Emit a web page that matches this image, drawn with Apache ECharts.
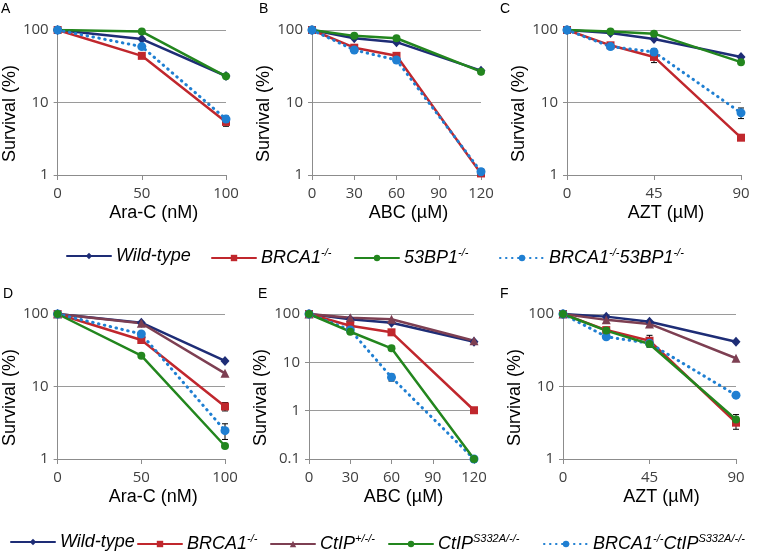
<!DOCTYPE html>
<html>
<head>
<meta charset="utf-8">
<script src="https://cdn.jsdelivr.net/npm/echarts@6/dist/echarts.min.js"></script>
<style>
html,body{margin:0;padding:0;background:#fff;}
#chart{width:761px;height:557px;}
</style>
</head>
<body>
<div id="chart"></div>
<script>
// ---------- DATA ----------
const doseAraC = [0, 50, 100];          // panels A, D
const doseABC  = [0, 30, 60, 120];      // panels B, E
const doseAZT  = [0, 22.5, 45, 90];     // panels C, F

const xTicksAraC = [0, 50, 100];
const xTicksABC  = [0, 30, 60, 90, 120];
const xTicksAZT  = [0, 45, 90];

// Panel A (Ara-C)
const A_wildType = [100, 75, 23.2];
const A_brca1    = [100, 44, 5.4];
const A_53bp1    = [100, 95, 23];
const A_double   = [100, 59, 5.9];
const A_brca1Err = [0, 0, 0.7];
const A_doubleErr= [0, 4, 0.6];
// Panel B (ABC)
const B_wildType = [100, 77, 68, 27.5];
const B_brca1    = [100, 57, 44, 1.05];
const B_53bp1    = [100, 83, 77, 26.6];
const B_double   = [100, 53, 38.6, 1.11];
const B_doubleErr= [0, 4, 3, 0.1];
// Panel C (AZT)
const C_wildType = [100, 91, 75, 42.5];
const C_brca1    = [100, 61.5, 42.5, 3.27];
const C_53bp1    = [100, 95, 89, 36];
const C_double   = [100, 59, 49.7, 7.2];
const C_brca1Err = [0, 3, 7, 0.2];
const C_doubleErr= [0, 0, 5, 1.2];
// Panel D (Ara-C)
const D_wildType = [100, 76, 22.5];
const D_brca1    = [100, 43.8, 5.3];
const D_ctip     = [100, 74.5, 15.2];
const D_s332a    = [100, 26.6, 1.51];
const D_double   = [100, 53, 2.46];
const D_brca1Err = [0, 0, 0.7];
const D_doubleErr= [0, 3, 0.6];
// Panel E (ABC)
const E_wildType = [100, 78, 66, 26.7];
const E_brca1    = [100, 57, 41.8, 1.02];
const E_ctip     = [100, 84, 78, 28];
const E_s332a    = [100, 43, 19.5, 0.1];
const E_double   = [100, 46.7, 4.9, 0.1];
const E_s332aErr = [0, 0, 2, 0];
const E_doubleErr= [0, 0, 0.8, 0];
// Panel F (AZT)
const F_wildType = [100, 92, 78, 41.5];
const F_brca1    = [100, 60, 42.8, 3.17];
const F_ctip     = [100, 83, 73, 24.5];
const F_s332a    = [100, 59, 38.6, 3.5];
const F_double   = [100, 48.6, 39.4, 7.6];
const F_brca1Err = [0, 0, 8, 0.6];
const F_s332aErr = [0, 0, 0, 0.6];

// ---------- STYLES ----------
const FONT = 'Liberation Sans, Arial, sans-serif';
const TICKFONT = 'Open Sans, Liberation Sans, sans-serif';
const STY = {
  'Wild-type':            {color:'#1e2d76', symbol:'diamond', size:[9,10], dash:'solid'},
  'BRCA1-/-':             {color:'#c0272d', symbol:'rect', size:8, dash:'solid'},
  '53BP1-/-':             {color:'#23861e', symbol:'circle', size:8, dash:'solid'},
  'BRCA1-/-53BP1-/-':     {color:'#1f7fd2', symbol:'circle', size:9, dash:[0.5,5.5]},
  'CtIP+/-/-':            {color:'#7d3f52', symbol:'triangle', size:9, dash:'solid'},
  'CtIPS332A/-/-':        {color:'#23861e', symbol:'circle', size:8, dash:'solid'},
  'BRCA1-/-CtIPS332A/-/-':{color:'#1f7fd2', symbol:'circle', size:9, dash:[0.5,5.5]}
};
const RICH = {
  'Wild-type': '{i|Wild-type}',
  'BRCA1-/-': '{i|BRCA1}{s|-/-}',
  '53BP1-/-': '{i|53BP1}{s|-/-}',
  'BRCA1-/-53BP1-/-': '{i|BRCA1}{s|-/-}{i|53BP1}{s|-/-}',
  'CtIP+/-/-': '{i|CtIP}{s|+/-/-}',
  'CtIPS332A/-/-': '{i|CtIP}{s|S332A/-/-}',
  'BRCA1-/-CtIPS332A/-/-': '{i|BRCA1}{s|-/-}{i|CtIP}{s|S332A/-/-}'
};

const grids = [
  {left:57,  top:30,  width:169, height:145},
  {left:312, top:30,  width:169, height:145},
  {left:567, top:30,  width:174, height:145},
  {left:56,  top:314, width:169, height:145},
  {left:309, top:314, width:165, height:145},
  {left:563, top:314, width:173, height:145}
];

const panels = [
  {ticks:xTicksAraC, name:'Ara-C (nM)', ymin:1,   dose:doseAraC,
   series:[['Wild-type',A_wildType],['BRCA1-/-',A_brca1],['53BP1-/-',A_53bp1],['BRCA1-/-53BP1-/-',A_double]],
   errs:[[A_brca1,A_brca1Err],[A_double,A_doubleErr]]},
  {ticks:xTicksABC,  name:'ABC (µM)',   ymin:1,   dose:doseABC,
   series:[['Wild-type',B_wildType],['BRCA1-/-',B_brca1],['53BP1-/-',B_53bp1],['BRCA1-/-53BP1-/-',B_double]],
   errs:[[B_double,B_doubleErr]]},
  {ticks:xTicksAZT,  name:'AZT (µM)',   ymin:1,   dose:doseAZT,
   series:[['Wild-type',C_wildType],['BRCA1-/-',C_brca1],['53BP1-/-',C_53bp1],['BRCA1-/-53BP1-/-',C_double]],
   errs:[[C_brca1,C_brca1Err],[C_double,C_doubleErr]]},
  {ticks:xTicksAraC, name:'Ara-C (nM)', ymin:1,   dose:doseAraC,
   series:[['Wild-type',D_wildType],['CtIP+/-/-',D_ctip],['BRCA1-/-',D_brca1],['BRCA1-/-CtIPS332A/-/-',D_double],['CtIPS332A/-/-',D_s332a]],
   errs:[[D_brca1,D_brca1Err],[D_double,D_doubleErr]]},
  {ticks:xTicksABC,  name:'ABC (µM)',   ymin:0.1, dose:doseABC,
   series:[['Wild-type',E_wildType],['CtIP+/-/-',E_ctip],['BRCA1-/-',E_brca1],['BRCA1-/-CtIPS332A/-/-',E_double],['CtIPS332A/-/-',E_s332a]],
   errs:[[E_s332a,E_s332aErr],[E_double,E_doubleErr]]},
  {ticks:xTicksAZT,  name:'AZT (µM)',   ymin:1,   dose:doseAZT,
   series:[['Wild-type',F_wildType],['CtIP+/-/-',F_ctip],['BRCA1-/-',F_brca1],['BRCA1-/-CtIPS332A/-/-',F_double],['CtIPS332A/-/-',F_s332a]],
   errs:[[F_brca1,F_brca1Err],[F_s332a,F_s332aErr]]}
];

function renderErr(params, api) {
  const x = api.value(0), lo = api.value(1), hi = api.value(2);
  const p1 = api.coord([x, lo]), p2 = api.coord([x, hi]);
  const w = 3;
  const st = {stroke:'#000', lineWidth:1};
  return {type:'group', children:[
    {type:'line', shape:{x1:p1[0], y1:p1[1], x2:p2[0], y2:p2[1]}, style:st},
    {type:'line', shape:{x1:p1[0]-w, y1:p1[1], x2:p1[0]+w, y2:p1[1]}, style:st},
    {type:'line', shape:{x1:p2[0]-w, y1:p2[1], x2:p2[0]+w, y2:p2[1]}, style:st}
  ]};
}

const xAxis = [], yAxis = [], series = [];
panels.forEach((p, i) => {
  const tmax = p.ticks[p.ticks.length-1];
  xAxis.push({
    type:'value', gridIndex:i, min:p.ticks[0], max:tmax, interval:p.ticks[1]-p.ticks[0],
    name:p.name, nameLocation:'middle', nameGap:29,
    nameTextStyle:{fontFamily:FONT, fontSize:18, color:'#000', padding:[0,0,0,24]},
    axisLine:{show:true, lineStyle:{color:'#8c8c8c', width:1}},
    axisTick:{show:true, length:5, lineStyle:{color:'#8c8c8c'}},
    axisLabel:{fontFamily:TICKFONT, fontSize:15, color:'#404040', margin:11},
    splitLine:{show:false}
  });
  yAxis.push({
    type:'log', logBase:10, gridIndex:i, min:p.ymin, max:100,
    name:'Survival (%)', nameLocation:'middle', nameGap:31, nameRotate:90,
    nameTextStyle:{fontFamily:FONT, fontSize:18, color:'#000', padding:[0,22,0,0]},
    axisLine:{show:true, lineStyle:{color:'#8c8c8c', width:1}},
    axisTick:{show:true, length:4, lineStyle:{color:'#8c8c8c'}},
    axisLabel:{fontFamily:TICKFONT, fontSize:15, color:'#404040', margin:9,
      formatter: v => String(+(+v).toPrecision(3))},
    splitLine:{show:true, lineStyle:{color:'#9a9a9a', width:1}},
    minorTick:{show:false}
  });
  p.series.forEach(([nm, vals]) => {
    const s = STY[nm];
    series.push({
      type:'line', name:nm, xAxisIndex:i, yAxisIndex:i,
      data: p.dose.map((d, k) => [d, vals[k]]),
      symbol:s.symbol, symbolSize:s.size, showAllSymbol:true,
      itemStyle:{color:s.color},
      lineStyle:{color:s.color, width:s.dash==='solid'?2.5:3, type:s.dash, cap:'round'},
      emphasis:{disabled:true}, animation:false
    });
  });
  const errData = [];
  p.errs.forEach(([vals, err]) => {
    p.dose.forEach((d, k) => {
      if (err[k] > 0) errData.push([d, vals[k] - err[k], vals[k] + err[k]]);
    });
  });
  series.push({
    type:'custom', xAxisIndex:i, yAxisIndex:i, data:errData, renderItem:renderErr,
    z:1, silent:true, animation:false
  });
});

function mkLegend(name, left, top) {
  return {
    data:[name], left:left, top:top, padding:0, itemWidth:44, itemHeight:8, itemGap:0,
    selectedMode:false,
    formatter: n => RICH[n],
    textStyle:{
      fontFamily:FONT, fontSize:18, fontStyle:'italic', color:'#000',
      rich:{
        i:{fontFamily:FONT, fontSize:18, fontStyle:'italic', color:'#000', lineHeight:22},
        s:{fontFamily:FONT, fontSize:11, fontStyle:'italic', color:'#000', lineHeight:11, verticalAlign:'top'}
      }
    }
  };
}
const legend = [
  mkLegend('Wild-type', 66, 247),
  mkLegend('BRCA1-/-', 211, 247),
  mkLegend('53BP1-/-', 354, 247),
  mkLegend('BRCA1-/-53BP1-/-', 499, 247),
  mkLegend('Wild-type', 10, 533),
  mkLegend('BRCA1-/-', 137, 533),
  mkLegend('CtIP+/-/-', 270, 533),
  mkLegend('CtIPS332A/-/-', 388, 533),
  mkLegend('BRCA1-/-CtIPS332A/-/-', 543, 533)
];

const letters = [['A',1,2],['B',259,2],['C',500,2],['D',3,287],['E',258,287],['F',500,287]];
const graphic = letters.map(([t,x,y]) => ({
  type:'text', left:x, top:y, style:{text:t, font:'14px ' + FONT, fill:'#000'}
}));

const chart = echarts.init(document.getElementById('chart'), null, {renderer:'canvas'});
chart.setOption({
  animation:false,
  backgroundColor:'#fff',
  grid: grids,
  xAxis, yAxis, series, legend, graphic
});
</script>
</body>
</html>
